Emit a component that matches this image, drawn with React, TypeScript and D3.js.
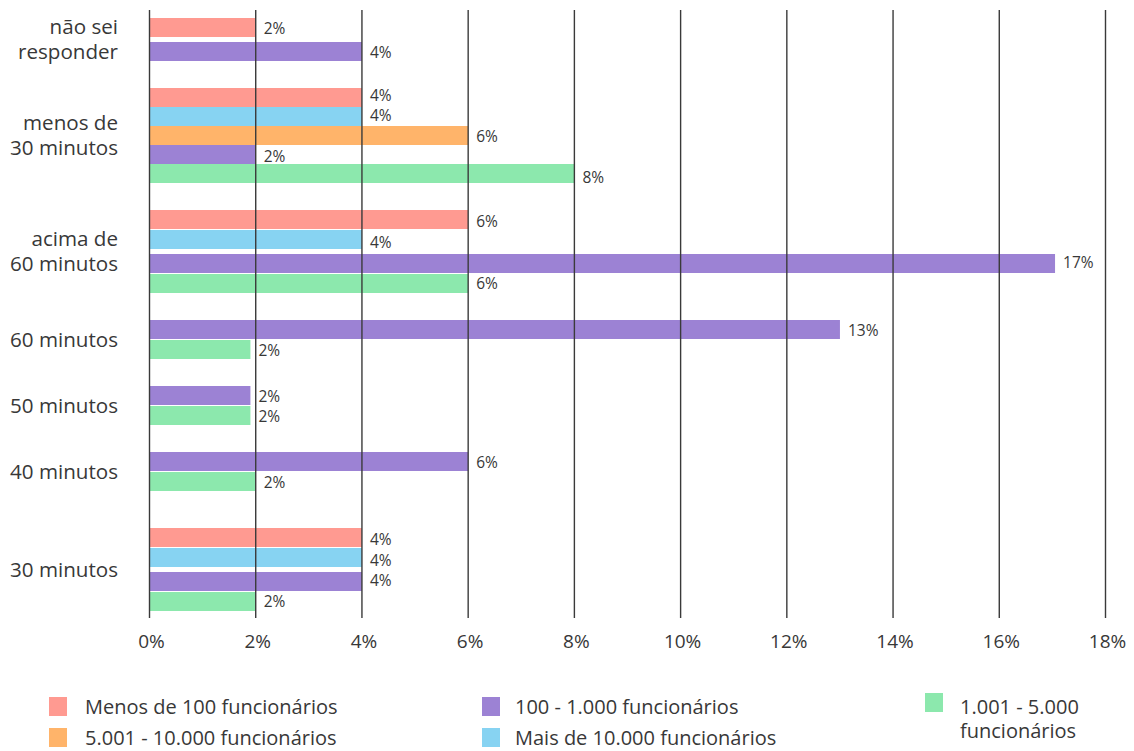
import React from "react";
import * as d3 from "d3";

// ---- data ----
const categories = [
  "não sei responder",
  "menos de 30 minutos",
  "acima de 60 minutos",
  "60 minutos",
  "50 minutos",
  "40 minutos",
  "30 minutos",
];
const categoryLines = [
  ["não sei", "responder"],
  ["menos de", "30 minutos"],
  ["acima de", "60 minutos"],
  ["60 minutos"],
  ["50 minutos"],
  ["40 minutos"],
  ["30 minutos"],
];
const menosDe100: (number | null)[] = [2, 4, 6, null, null, null, 4];
const maisDe10000: (number | null)[] = [null, 4, 4, null, null, null, 4];
const de5001a10000: (number | null)[] = [null, 6, null, null, null, null, null];
const de100a1000: (number | null)[] = [4, 2, 17.05, 13, 1.9, 6, 4];
const de1001a5000: (number | null)[] = [null, 8, 6, 1.9, 1.9, 2, 2];

const seriesNames = [
  "Menos de 100 funcionários",
  "Mais de 10.000 funcionários",
  "5.001 - 10.000 funcionários",
  "100 - 1.000 funcionários",
  "1.001 - 5.000 funcionários",
];
const seriesColors = ["#FF9A91", "#87D3F2", "#FFB46A", "#9C82D4", "#8CE8AD"];
const seriesValues = [menosDe100, maisDe10000, de5001a10000, de100a1000, de1001a5000];

const xTicks = [0, 2, 4, 6, 8, 10, 12, 14, 16, 18];
const legendOrder = [0, 3, 4, 2, 1];
const legendLines = [
  ["Menos de 100 funcionários"],
  ["Mais de 10.000 funcionários"],
  ["5.001 - 10.000 funcionários"],
  ["100 - 1.000 funcionários"],
  ["1.001 - 5.000", "funcionários"],
];

const FONT = "'Open Sans', 'Noto Sans', sans-serif";
const TEXT = "#383838";

export default function App() {
  const W = 1134;
  const H = 751;
  const plotTop = 18;
  const plotBottom = 611;
  const x = d3.scaleLinear().domain([0, 18]).range([149.5, 1105.5]);

  // layout groups
  const maxGroup = 95;
  const groupGap = 27;
  const innerGap = 4;
  const labelSep = 20.5;
  type Bar = { s: number; v: number; y: number; h: number; ly: number };
  const groups = categories.map((_, ci) => {
    const present = seriesValues
      .map((vals, si) => ({ si, v: vals[ci] }))
      .filter((d) => d.v != null) as { si: number; v: number }[];
    const n = present.length;
    const pitch = Math.min(20, maxGroup / n);
    const barH = pitch >= 20 ? 19 : pitch;
    const bars: Bar[] = [];
    let off = 0;
    present.forEach((d, k) => {
      if (k > 0 && d.si - present[k - 1].si > 1) off += innerGap;
      bars.push({ s: d.si, v: d.v, y: off, h: barH, ly: off + barH / 2 });
      off += pitch;
    });
    const height = off - (pitch - barH);
    // spread labels if they are too close
    const tooClose = bars.some((b, k) => k > 0 && b.ly - bars[k - 1].ly < labelSep);
    if (tooClose) {
      const mean = d3.mean(bars, (b) => b.ly) as number;
      bars.forEach((b, k) => {
        b.ly = mean + (k - (bars.length - 1) / 2) * labelSep;
      });
    }
    return { bars, height, top: 0 };
  });
  let cursor = plotTop;
  groups.forEach((g, i) => {
    if (i === groups.length - 1) g.top = plotBottom - g.height;
    else g.top = cursor;
    cursor = g.top + g.height + groupGap;
  });

  return (
    <svg
      width={W}
      height={H}
      style={{ position: "absolute", left: 0, top: 0, background: "#fff" }}
      fontFamily={FONT}
    >
      {/* bars */}
      {groups.map((g, ci) =>
        g.bars.map((b) => (
          <rect
            key={`${ci}-${b.s}`}
            x={x(0)}
            y={g.top + b.y}
            width={x(b.v) - x(0)}
            height={b.h}
            fill={seriesColors[b.s]}
          />
        ))
      )}
      {/* gridlines */}
      {xTicks.map((t) => (
        <line
          key={t}
          x1={x(t)}
          x2={x(t)}
          y1={10}
          y2={618}
          stroke="#3a3a3a"
          strokeWidth={1.4}
        />
      ))}
      {/* value labels */}
      {groups.map((g, ci) =>
        g.bars.map((b) => (
          <text
            key={`l-${ci}-${b.s}`}
            x={x(b.v) + 8}
            y={g.top + b.ly + 1}
            dy="0.35em"
            fontSize={15.5}
            fill={TEXT}
          >
            {Math.round(b.v)}%
          </text>
        ))
      )}
      {/* category labels */}
      {groups.map((g, ci) => {
        const lines = categoryLines[ci];
        const lh = 25.5;
        const c = g.top + g.height / 2;
        return (
          <text key={`c-${ci}`} textAnchor="end" fontSize={20.6} fill={TEXT}>
            {lines.map((ln, li) => (
              <tspan
                key={li}
                x={118}
                y={c + (li - (lines.length - 1) / 2) * lh}
                dy="0.35em"
              >
                {ln}
              </tspan>
            ))}
          </text>
        );
      })}
      {/* x axis labels */}
      {xTicks.map((t) => (
        <text
          key={`t-${t}`}
          x={x(t) + 2}
          y={641}
          dy="0.35em"
          textAnchor="middle"
          fontSize={19}
          fill={TEXT}
        >
          {t}%
        </text>
      ))}
      {/* legend */}
      {legendOrder.map((si, k) => {
        const col = k % 3;
        const row = Math.floor(k / 3);
        const lx = [49, 482, 925][col];
        const tx = [85, 515, 960][col];
        const ty = row === 0 ? 707 : 738;
        const lines = legendLines[si];
        const sy = col === 2 ? 693 : row === 0 ? 697 : 728;
        return (
          <g key={`lg-${si}`}>
            <rect x={lx} y={sy} width={18} height={19} fill={seriesColors[si]} />
            <text fontSize={20} fill={TEXT}>
              {lines.map((ln, li) => (
                <tspan key={li} x={tx} y={ty + li * 24} dy="0.35em">
                  {ln}
                </tspan>
              ))}
            </text>
          </g>
        );
      })}
    </svg>
  );
}
